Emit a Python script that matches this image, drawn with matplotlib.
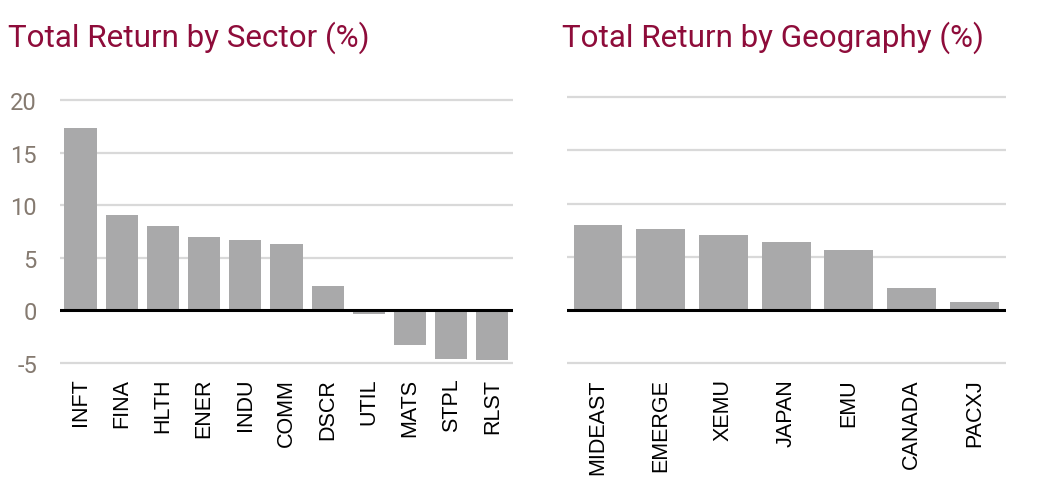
import matplotlib
matplotlib.use("Agg")
import matplotlib.pyplot as plt

plt.rcParams['axes.unicode_minus'] = False

sectors = ["INFT", "FINA", "HLTH", "ENER", "INDU", "COMM", "DSCR", "UTIL", "MATS", "STPL", "RLST"]
sector_ret = [17.3, 9.1, 8.0, 7.0, 6.7, 6.3, 2.3, -0.4, -3.3, -4.6, -4.7]

regions = ["MIDEAST", "EMERGE", "XEMU", "JAPAN", "EMU", "CANADA", "PACXJ"]
region_ret = [8.0, 7.6, 7.0, 6.4, 5.6, 2.1, 0.7]

yticks = [-5, 0, 5, 10, 15, 20]

bar_col = "#a9a9aa"
grid_col = "#d9d9d9"
title_col = "#8e0c3a"
tick_col = "#857a70"

fig = plt.figure(figsize=(10.39, 4.89), dpi=100)
ax1 = fig.add_axes([0.0577, 0.2454, 0.436, 0.5589])
ax2 = fig.add_axes([0.5454, 0.2448, 0.4225, 0.565])


def style(ax, names, vals, show_y):
    x = range(len(names))
    ax.bar(x, vals, width=0.78, color=bar_col, zorder=2)
    for t in yticks:
        if t == 0:
            continue
        ax.axhline(t, color=grid_col, lw=1.6, zorder=1)
    ax.axhline(0, color="black", lw=2.2, zorder=3)
    ax.set_xlim(-0.5, len(names) - 0.5)
    ax.set_ylim(-5.5, 20.5)
    ax.set_yticks(yticks)
    ax.set_xticks(list(x))
    ax.set_xticklabels(names, rotation=90, fontsize=15.5, family="Liberation Sans")
    ax.tick_params(axis="x", length=0, pad=7)
    ax.tick_params(axis="y", length=0, pad=16.5, labelsize=17, labelcolor=tick_col)
    if not show_y:
        ax.set_yticklabels([])
    else:
        for lab in ax.get_yticklabels():
            lab.set_family("Roboto")
    for s in ax.spines.values():
        s.set_visible(False)


style(ax1, sectors, sector_ret, True)
style(ax2, regions, region_ret, False)

fig.text(0.008, 0.905, "Total Return by Sector (%)", color=title_col, fontsize=22.6,
         family="Roboto", va="baseline")
fig.text(0.541, 0.905, "Total Return by Geography (%)", color=title_col, fontsize=22.6,
         family="Roboto", va="baseline")

fig.savefig("out.png", dpi=100)
